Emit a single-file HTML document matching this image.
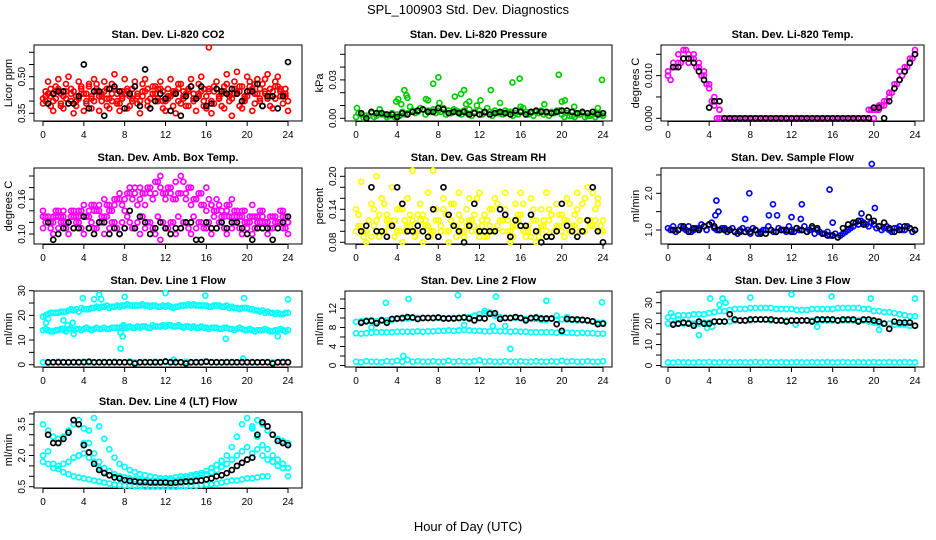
<!DOCTYPE html>
<html><head><meta charset="utf-8"><style>
html,body{margin:0;padding:0;background:#fff}
svg{display:block;font-family:"Liberation Sans",Arial,sans-serif}
</style></head><body>
<svg id="chart" width="936" height="540" viewBox="0 0 936 540" xmlns="http://www.w3.org/2000/svg">
<rect width="936" height="540" fill="#fff"/>
<text x="468" y="14" text-anchor="middle" font-size="13">SPL_100903  Std. Dev. Diagnostics</text>
<text x="468" y="531" text-anchor="middle" font-size="13">Hour of Day (UTC)</text>
</svg>
<script>
// ---- data: x-ticks ----
const xTicks=[0,4,8,12,16,20,24];
// ---- CO2 ----
const co2A=[0.41,0.43,0.40,0.45,0.42,0.39,0.44,0.41,0.43,0.46,0.40,0.42,0.44,0.41,0.45,0.39,0.43,0.42,0.46,0.40,0.44,0.41,0.43,0.45,0.40,0.42,0.44,0.39,0.43,0.46,0.41,0.44,0.42,0.40,0.45,0.43,0.47,0.41,0.44,0.46,0.42,0.45,0.43,0.47,0.41,0.44,0.46,0.43,0.40];
const co2B=[0.44,0.38,0.46,0.39,0.47,0.43,0.38,0.46,0.40,0.37,0.47,0.43,0.38,0.47,0.40,0.44,0.37,0.45,0.39,0.47,0.38,0.46,0.40,0.37,0.45,0.38,0.47,0.44,0.38,0.40,0.47,0.38,0.45,0.39,0.41,0.37,0.42,0.48,0.38,0.40,0.48,0.39,0.41,0.49,0.38,0.48,0.42,0.45];
const co2C=[0.39,0.48,0.36,0.49,0.37,0.50,0.35,0.48,0.36,0.47,0.49,0.36,0.48,0.37,0.51,0.36,0.49,0.38,0.48,0.35,0.49,0.37,0.46,0.48,0.36,0.49,0.35,0.47,0.38,0.49,0.36,0.50,0.37,0.35,0.48,0.38,0.51,0.34,0.52,0.37,0.50,0.36,0.49,0.38,0.51,0.37,0.50,0.39,0.36];
const co2D=[0.42,0.45,0.41,0.43,0.44,0.40,0.42,0.45,0.43,0.41,0.44,0.42,0.45,0.40,0.43,0.42,0.44,0.41,0.43,0.42,0.45,0.43,0.41,0.44,0.42,0.43,0.45,0.41,0.44,0.43,0.42,0.45,0.62,0.44,0.42,0.46,0.43,0.45,0.44,0.42,0.46,0.43,0.45,0.44,0.42,0.46,0.44,0.43];
const co2E=[0.40,0.42,0.44,0.38,0.41,0.45,0.40,0.43,0.39,0.42,0.45,0.40,0.41,0.43,0.39,0.41,0.45,0.40,0.42,0.44,0.40,0.43,0.45,0.40,0.41,0.44,0.40,0.42,0.45,0.41,0.43,0.40,0.44,0.46,0.41,0.44,0.40,0.43,0.46,0.41,0.44,0.47,0.40,0.43,0.45,0.41,0.45,0.42];
const co2K=[0.39,0.43,0.44,0.44,0.39,0.39,0.42,0.55,0.37,0.44,0.44,0.34,0.45,0.46,0.44,0.37,0.43,0.46,0.38,0.53,0.37,0.40,0.43,0.41,0.36,0.43,0.34,0.42,0.46,0.41,0.46,0.38,0.39,0.45,0.44,0.43,0.45,0.43,0.40,0.44,0.44,0.47,0.38,0.42,0.42,0.37,0.42,0.56];
// ---- Pressure ----
const prA=[0.001,0.003,0.002,0.004,0.002,0.003,0.001,0.004,0.003,0.005,0.004,0.006,0.005,0.007,0.006,0.007,0.006,0.008,0.006,0.007,0.005,0.006,0.007,0.005,0.006,0.004,0.005,0.006,0.004,0.006,0.005,0.004,0.006,0.005,0.004,0.005,0.006,0.004,0.005,0.006,0.003,0.004,0.002,0.003,0.004,0.002,0.003,0.004,0.002];
const prB=[0.004,0.000,0.002,0.001,0.004,0.003,0.002,0.001,0.002,0.003,0.009,0.004,0.008,0.003,0.005,0.004,0.005,0.003,0.004,0.006,0.003,0.004,0.002,0.010,0.003,0.008,0.002,0.004,0.003,0.005,0.002,0.003,0.008,0.003,0.002,0.004,0.003,0.002,0.004,0.006,0.001,0.002,0.001,0.003,0.001,0.002,0.001,0.003];
const prOx=[0.1,2.3,3.9,4.1,4.4,4.7,4.9,5.0,6.8,7.0,7.5,8.0,8.1,9.6,10.2,10.5,10.7,11.0,12.1,13.1,14.0,15.2,15.9,16.0,18.3,19.7,20.0,20.3,21.2,23.5,23.9];
const prOy=[0.008,0.007,0.013,0.015,0.011,0.022,0.018,0.016,0.015,0.014,0.027,0.032,0.012,0.017,0.019,0.022,0.011,0.013,0.014,0.022,0.012,0.028,0.031,0.009,0.011,0.034,0.013,0.014,0.009,0.008,0.030];
const prK=[0.004,0.000,0.005,0.004,0.004,0.003,0.003,0.001,0.004,0.003,0.005,0.006,0.007,0.005,0.005,0.008,0.007,0.004,0.005,0.004,0.005,0.003,0.004,0.003,0.005,0.003,0.004,0.005,0.004,0.003,0.006,0.005,0.003,0.005,0.006,0.005,0.005,0.004,0.005,0.006,0.006,0.005,0.004,0.005,0.004,0.005,0.003,0.004];
// ---- Li-820 Temp ----
const tmA=[0.010,0.013,0.013,0.014,0.015,0.014,0.012,0.010,0.007,0.003,0,0,0,0,0,0,0,0,0,0,0,0,0,0,0,0,0,0,0,0,0,0,0,0,0,0,0,0,0,0.002,0.002,0.002,0.003,0.005,0.007,0.009,0.011,0.013,0.015];
const tmB=[0.009,0.012,0.013,0.016,0.014,0.012,0.010,0.008,0.004,0.000,0,0,0,0,0,0,0,0,0,0,0,0,0,0,0,0,0,0,0,0,0,0,0,0,0,0,0,0,0,0.002,0.002,0.003,0.004,0.006,0.008,0.010,0.012,0.014];
const tmC=[0.011,0.012,0.015,0.016,0.013,0.015,0.013,0.011,0.008,0.005,0.002,0,0,0,0,0,0,0,0,0,0,0,0,0,0,0,0,0,0,0,0,0,0,0,0,0,0,0,0,0,0,0.003,0.004,0.006,0.008,0.011,0.012,0.014,0.016];
const tmK=[0.012,0.012,0.014,0.014,0.013,0.011,0.009,0.0025,0.004,0.004,0,0,0,0,0,0,0,0,0,0,0,0,0,0,0,0,0,0,0,0,0,0,0,0,0,0,0,0,0,0.0025,0.0025,0,0.004,0.007,0.009,0.011,0.013,0.015];
// ---- Amb Box Temp ----
const abA=[0.11,0.12,0.10,0.11,0.12,0.10,0.11,0.12,0.10,0.11,0.11,0.12,0.10,0.11,0.12,0.10,0.11,0.12,0.11,0.10,0.11,0.12,0.10,0.09,0.11,0.12,0.10,0.11,0.12,0.10,0.11,0.12,0.11,0.10,0.11,0.12,0.10,0.11,0.12,0.10,0.11,0.10,0.12,0.11,0.10,0.11,0.12,0.11,0.10];
const abB=[0.13,0.12,0.14,0.13,0.12,0.14,0.13,0.14,0.13,0.15,0.14,0.13,0.15,0.14,0.16,0.15,0.17,0.16,0.15,0.17,0.18,0.16,0.19,0.17,0.18,0.16,0.17,0.19,0.18,0.16,0.17,0.15,0.16,0.14,0.15,0.13,0.15,0.14,0.13,0.14,0.12,0.13,0.14,0.12,0.13,0.12,0.14,0.13];
const abC=[0.14,0.13,0.12,0.13,0.14,0.12,0.14,0.13,0.15,0.13,0.14,0.15,0.13,0.14,0.15,0.16,0.14,0.17,0.18,0.16,0.15,0.17,0.19,0.20,0.17,0.18,0.19,0.20,0.17,0.18,0.16,0.17,0.18,0.15,0.16,0.14,0.15,0.16,0.13,0.14,0.12,0.15,0.13,0.14,0.12,0.13,0.12,0.14,0.12];
const abD=[0.12,0.11,0.13,0.12,0.11,0.13,0.12,0.11,0.13,0.12,0.11,0.12,0.13,0.12,0.11,0.12,0.13,0.11,0.12,0.13,0.12,0.11,0.13,0.12,0.11,0.12,0.13,0.12,0.11,0.13,0.12,0.11,0.12,0.13,0.12,0.11,0.13,0.12,0.11,0.12,0.13,0.11,0.12,0.12,0.11,0.13,0.12,0.11];
const abE=[0.13,0.12,0.13,0.14,0.13,0.12,0.13,0.14,0.13,0.14,0.15,0.14,0.16,0.15,0.16,0.17,0.16,0.18,0.17,0.18,0.17,0.18,0.17,0.18,0.16,0.17,0.16,0.17,0.16,0.15,0.16,0.15,0.14,0.15,0.14,0.13,0.14,0.13,0.14,0.13,0.12,0.13,0.12,0.13,0.12,0.13,0.12,0.13,0.12];
const abK=[0.12,0.09,0.10,0.11,0.12,0.11,0.11,0.13,0.11,0.10,0.12,0.12,0.10,0.11,0.10,0.11,0.14,0.11,0.13,0.12,0.10,0.11,0.12,0.11,0.10,0.11,0.11,0.12,0.12,0.09,0.09,0.12,0.11,0.11,0.12,0.11,0.12,0.12,0.11,0.10,0.09,0.11,0.11,0.11,0.09,0.11,0.12,0.13];
// ---- Gas Stream RH ----
const rhA=[0.10,0.11,0.10,0.09,0.12,0.10,0.13,0.11,0.10,0.14,0.11,0.12,0.10,0.13,0.11,0.10,0.12,0.14,0.10,0.11,0.13,0.10,0.12,0.11,0.09,0.13,0.11,0.10,0.12,0.14,0.10,0.11,0.13,0.10,0.09,0.12,0.11,0.10,0.13,0.11,0.10,0.12,0.11,0.14,0.10,0.12,0.11,0.15,0.10];
const rhB=[0.13,0.09,0.12,0.14,0.09,0.15,0.12,0.09,0.14,0.10,0.13,0.09,0.15,0.12,0.09,0.14,0.10,0.13,0.15,0.09,0.12,0.14,0.10,0.16,0.12,0.09,0.14,0.15,0.10,0.12,0.09,0.13,0.15,0.10,0.14,0.09,0.12,0.14,0.10,0.13,0.09,0.15,0.13,0.10,0.16,0.12,0.14,0.11];
const rhC=[0.14,0.19,0.08,0.15,0.20,0.16,0.12,0.18,0.14,0.08,0.16,0.21,0.13,0.08,0.17,0.21,0.12,0.16,0.08,0.15,0.17,0.09,0.16,0.13,0.17,0.09,0.14,0.16,0.12,0.17,0.08,0.15,0.17,0.09,0.16,0.08,0.14,0.17,0.09,0.15,0.13,0.16,0.10,0.17,0.15,0.18,0.17,0.16,0.12];
const rhD=[0.11,0.10,0.12,0.11,0.13,0.10,0.11,0.12,0.10,0.12,0.11,0.10,0.12,0.11,0.10,0.12,0.11,0.10,0.12,0.11,0.10,0.11,0.12,0.10,0.11,0.12,0.10,0.11,0.12,0.10,0.11,0.12,0.10,0.11,0.12,0.10,0.11,0.12,0.10,0.11,0.12,0.10,0.11,0.12,0.10,0.11,0.12,0.10];
const rhK=[0.10,0.11,0.18,0.10,0.10,0.09,0.11,0.18,0.15,0.10,0.10,0.11,0.10,0.09,0.14,0.09,0.18,0.13,0.11,0.10,0.08,0.11,0.15,0.10,0.10,0.10,0.10,0.14,0.13,0.09,0.12,0.11,0.11,0.13,0.10,0.08,0.09,0.09,0.10,0.15,0.11,0.10,0.09,0.10,0.12,0.18,0.10,0.08];
// ---- Sample Flow ----
const sfA=[1.05,1.1,1.0,1.05,1.1,1.0,1.05,1.1,1.15,1.05,1.0,1.05,1.0,0.95,1.0,0.95,0.9,1.0,0.95,1.0,1.0,0.95,1.0,0.95,1.0,1.05,1.0,0.95,1.05,1.0,0.9,0.95,0.85,0.8,0.9,1.0,1.1,1.15,1.2,1.1,1.15,1.1,1.05,1.0,1.05,1.1,1.0,1.05,1.0];
const sfB=[1.0,0.95,1.1,1.0,0.95,1.05,1.15,1.0,1.2,1.0,1.05,0.95,1.05,0.9,1.05,1.0,1.05,0.9,1.0,1.1,0.95,1.05,1.0,1.1,0.95,1.0,1.1,1.0,0.9,0.95,0.9,0.85,0.9,0.85,0.95,1.05,1.2,1.25,1.15,1.2,1.05,1.0,1.1,0.95,1.05,1.0,1.1,0.95];
const sfOx=[4.7,4.9,4.6,7.5,7.9,9.8,10.2,10.6,12.0,13.0,12.9,15.7,16.0,18.8,19.8,20.1];
const sfOy=[1.8,1.5,1.4,1.3,2.0,1.4,1.7,1.4,1.35,1.7,1.3,2.1,1.2,1.45,2.8,1.6];
const sfK=[1.0,1.0,1.1,0.95,1.05,1.0,1.1,1.15,1.1,1.0,1.0,1.0,0.95,0.95,0.95,0.95,1.0,0.9,0.9,1.0,0.95,1.0,1.0,0.95,1.05,1.0,0.95,1.1,1.05,0.9,0.85,0.85,0.8,1.05,1.15,1.2,1.25,1.15,1.35,1.25,1.1,1.2,1.05,0.95,1.0,1.1,1.05,1.0];
// ---- Line 1 ----
const l1Top=[19.5,20.5,21,21,21.5,22,22,21.5,22.5,22.5,23,23,23.5,23,23.5,23.5,24,24,24,24,24,23.5,24,23.5,23.5,23.5,23.5,24,24,24,24,24,24,23.5,24,23.5,24,23.5,23,23,23,22.5,22,22,21.5,21,21,20.5,21];
const l1Top2=[20,21,21,21.5,21.5,22.5,22.5,23,22.5,23,23.5,23.5,24,23.5,24,24,24.5,24,24,24.5,24,24,23.5,24,24,23,23.5,24,24.5,24.5,24,24,23.5,24,24,23.5,23,23,22.5,23,22.5,22,21.5,21,21,20.5,20.5,21];
const l1Mid=[14,14,13.5,14,14,14.5,14,14.5,14.5,14.5,14.5,14.5,15,14.5,15,15,15,15.5,15,15,15.5,15,15.5,15.5,15.5,16,15.5,15.5,15.5,15,15,15.5,15,15,15,14.5,15,14.5,14.5,14.5,14,14,14,14,14,13.5,14,14,14];
const l1Mid2=[14.5,13.5,14,14.5,13.5,14.5,14.5,14,15,14,15,14.5,14.5,15,15,15.5,15,15,15.5,15.5,15,16,15.5,16,16,15.5,16,15,15.5,15.5,15,15,14.5,15,14.5,15,14.5,14,15,14,14.5,13.5,14,14.5,13.5,14,14.5,13.5];
const l1Low=[1,0.8,1,1.2,1,0.9,1.1,1,1.2,1,0.9,1,1.1,1,1.2,1,1,1.3,1,0.9,1.1,1,1.2,1,1.1,1,0.9,1,1.2,1,1,1.1,1.3,1,1,0.9,1.1,1,1,1.2,1,1,0.9,1,1.1,1,1,1.2,1];
const l1Ox=[0.3,0.5,1.9,2.0,2.4,2.9,3.0,3.9,5.0,5.5,5.7,7.6,7.8,7.6,7.9,8.0,12.0,12.8,15.9,17.9,19.7,19.6,23.0,24.0];
const l1Oy=[17,18.5,14.5,18,16,17,12.5,27,26.5,28.5,26.5,13,11.5,6.5,16,27.5,29,2,28,10.5,27,2.5,11.5,26.5];
const l1K=[1,1,1,1,1,1,1,1,1.2,1,1,1,1,1,1,1,1,0.5,1,1,1,1,1,1.3,1,1,1,0.5,1,1,1,1.2,1,1,1,1,1,1,1,1,1,1,1,1,0.5,1,1,1];
// ---- Line 2 ----
const l2Top=[9.2,9.3,9.5,9.5,9.3,9.6,9.5,9.6,9.8,9.8,9.9,10,10,10,10,10,10,10,10,10,10,10.1,10.2,10.5,10.8,11,11.2,10.5,10.2,10,10,10,10,9.8,9.8,9.8,9.6,9.6,9.8,9.6,9.7,9.7,9.6,9.5,9.5,9.4,9.2,9.0,9.0];
const l2Mid=[6.8,6.7,6.8,6.9,7.0,7.0,7.0,7.0,7.1,7.1,7.1,7.1,7.2,7.1,7.2,7.2,7.3,7.3,7.4,7.3,7.4,7.5,7.4,7.3,7.3,7.2,7.2,7.3,7.2,7.2,7.1,7.2,7.1,7.1,7.0,7.0,7.0,7.0,7.0,6.9,7.0,6.9,6.9,6.8,6.9,6.8,6.8,6.7,6.7];
const l2Low=[0.8,0.7,0.9,0.8,0.8,0.7,0.9,0.8,1.0,0.8,1.2,0.8,0.9,0.8,0.8,0.9,0.8,0.8,1.0,0.8,0.9,0.8,0.8,0.9,1.1,0.8,0.9,0.8,0.8,0.9,0.8,0.8,0.9,0.8,0.8,0.9,0.8,0.8,0.9,0.8,1.0,0.8,0.9,0.8,0.8,0.9,0.8,0.8,0.9];
const l2Ox=[2.9,5.1,9.9,13.6,18.5,23.9,15.0,4.6,12.5,13.0,19.5,20.5,10.5,13.3,14.5,1.5];
const l2Oy=[13.2,14,14.8,14.5,13.6,13.3,3.5,2,11.5,11,10.5,10.2,8.5,8.3,8.3,8];
const l2K=[9.0,9.3,9.4,8.9,9.5,9.0,9.8,9.9,10,10.2,10.1,9.8,10,10,10,10.1,9.9,9.9,9.9,10,10.1,9.9,9.5,10,9.9,10.9,11,9.8,10,10,10.2,10,9.5,10,10.1,9.9,9.9,9.9,8.7,7.3,9.8,9.7,9.7,9.6,9.5,9.3,8.7,8.8];
// ---- Line 3 ----
const l3Top=[23,23.5,24,24,24,24.5,24.5,24.5,25,25.5,26,26,26.5,27,27,27,27.5,27.5,27.5,27.5,27.5,27,27,27,27,26.5,26.5,26.5,27,27,27,27,27,27.5,27.5,27.5,27.5,27.5,27,27,26,26,25.5,25.5,25,24.5,24,23.5,23.5];
const l3Mid=[20,20,20,20,20.5,20,20,20.5,20.5,21,21,21,21,21.5,21.5,21.5,21.5,22,22,22,21.5,21.5,21.5,21.5,21.5,21.5,21.5,21.5,21.5,21.5,21.5,21.5,21.5,21.5,21.5,21.5,21.5,21.5,21.5,21,20.5,20,20,20,19.5,19.5,19.5,19,19];
const l3Low=[1.5,1.4,1.6,1.5,1.5,1.4,1.6,1.5,1.7,1.5,1.5,1.6,1.5,1.5,1.6,1.5,1.5,1.7,1.5,1.6,1.5,1.5,1.6,1.5,1.5,1.6,1.5,1.5,1.6,1.5,1.5,1.6,1.5,1.5,1.6,1.5,1.5,1.6,1.5,1.5,1.6,1.5,1.5,1.6,1.5,1.5,1.6,1.5,1.5];
const l3Ox=[0.3,1.0,3.0,3.8,4.3,3.8,4.1,5.0,5.3,5.6,8.0,12.0,15.9,19.7,24.0,14.5,20.5,12.4];
const l3Oy=[25,22,14.5,20,18.5,18,32,29,32,30,32.5,34,33,32,32,18.5,17,19.5];
const l3K=[19.5,20,20.5,20,19,21,20,20,21,21,21,24.5,22,21.5,21.5,22,22,22,22,22,21.5,21.5,21,21.5,21.5,21.5,21.5,21,22,22,22,22,21.5,22,22,22,21,22,22,21.5,21,20,17.5,21,20.5,20.5,20.5,19];
// ---- Line 4 ----
const l4A=[3.5,3.2,2.9,2.8,2.9,3.2,3.5,3.7,3.3,2.6,2.1,1.7,1.4,1.25,1.1,1.0,0.95,0.9,0.85,0.8,0.8,0.78,0.78,0.78,0.78,0.8,0.8,0.85,0.9,0.95,1.0,1.05,1.1,1.2,1.3,1.45,1.6,1.8,2.0,2.2,2.4,3.3,3.7,3.5,3.2,3.0,2.8,2.7,2.6];
const l4B=[null,null,null,null,null,null,null,2.0,2.6,3.2,3.8,3.4,2.8,2.3,1.9,1.6,1.45,1.3,1.2,1.1,1.05,1.0,0.95,0.9,0.9,0.9,0.95,1.0,1.0,1.05,1.1,1.15,1.25,1.4,1.55,1.75,2.0,2.4,2.9,3.5,3.8,3.4,2.9,2.5,2.3,2.0,1.8,1.6,1.4];
const l4C=[2.0,2.2,1.6,1.5,1.6,1.7,1.9,2.0,2.1,1.9,1.7,1.4,1.2,null,null,null,null,null,null,null,null,null,null,null,null,null,null,null,null,null,null,null,null,null,null,null,null,null,null,null,null,2.1,2.3,2.0,1.8,1.7,1.5,1.4,1.0];
const l4D=[1.7,1.6,1.4,1.35,1.2,1.1,1.0,0.95,0.9,0.85,0.8,0.75,0.7,0.65,0.6,0.58,0.55,0.55,0.52,0.52,0.5,0.5,0.5,0.5,0.5,0.5,0.5,0.52,0.52,0.55,0.55,0.58,0.6,0.62,0.65,0.7,0.75,0.8,0.8,0.85,0.9,0.9,0.95,1.0,1.0,null,null,null,null];
const l4K=[3.0,2.6,2.6,2.8,3.1,3.7,3.5,2.5,2.15,1.6,1.3,1.15,1.05,0.95,0.9,0.82,0.78,0.75,0.72,0.72,0.7,0.7,0.7,0.7,0.68,0.7,0.72,0.75,0.75,0.78,0.8,0.85,0.9,1.0,1.05,1.15,1.3,1.5,1.65,1.8,1.9,3.0,3.6,3.4,3.0,2.7,2.6,2.5];
// ---- tick arrays ----
const yt1=[0.35,0.40,0.45,0.50,0.55,0.60], yl1=['0.35','','','0.50','',''];
const yt2=[0,0.01,0.02,0.03,0.04,0.05], yl2=['0.00','','','0.03','',''];
const yt3=[0,0.005,0.010,0.015], yl3=['0.000','','0.010',''];
const yt4=[0.10,0.12,0.14,0.16,0.18,0.20], yl4=['0.10','','','0.16','',''];
const yt5=[0.08,0.10,0.12,0.14,0.16,0.18,0.20], yl5=['0.08','','','0.14','','','0.20'];
const yt6=[1.0,1.5,2.0,2.5], yl6=['1.0','','2.0',''];
const yt7=[0,5,10,15,20,25,30], yl7=['0','','10','','20','','30'];
const yt8=[0,2,4,6,8,10,12,14], yl8=['0','','4','','8','','12',''];
const yt9=[0,5,10,15,20,25,30,35], yl9=['0','','10','','20','','30',''];
const yt10=[0.5,1.0,1.5,2.0,2.5,3.0,3.5,4.0], yl10=['0.5','','','2.0','','','3.5',''];

const NS='http://www.w3.org/2000/svg';
const svg=document.getElementById('chart');
function mk(tag,attrs,parent){const e=document.createElementNS(NS,tag);for(const k in attrs)e.setAttribute(k,attrs[k]);(parent||svg).appendChild(e);return e;}
const colL=[34,345,661],colR=[302,612,924],colX0=[43,356,668],colX24=[288,603,915];
const rowT=[45,168,291,412],BH=76;

function panel(o){
  const g=mk('g',{});
  
  
  const L=colL[o.c],R=colR[o.c],T=rowT[o.r],B=T+BH;
  const xs=h=>colX0[o.c]+(colX24[o.c]-colX0[o.c])*h/24;
  const ys=v=>T+o.p1+(v-o.v1)*(o.p2-o.p1)/(o.v2-o.v1);
  const t=mk('text',{x:(L+R)/2,y:T-7,'text-anchor':'middle','font-size':'11','font-weight':'bold'},g);
  t.textContent=o.title;
  
  
  const box=mk('rect',{x:L,y:T,width:R-L,height:BH,fill:'none',stroke:'#000','stroke-width':1},g);
  
  
  xTicks.forEach(h=>{
    const x=xs(h);
    mk('line',{x1:x,x2:x,y1:B,y2:B+5,stroke:'#000'},g);
    const lt=mk('text',{x:x,y:B+17,'text-anchor':'middle','font-size':'10'},g);
    lt.textContent=h;
    
    
  });
  mk('line',{x1:xs(0),x2:xs(24),y1:B+0.5,y2:B+0.5,stroke:'#000'},g);
  o.yt.forEach((v,i)=>{
    const y=ys(v);
    mk('line',{x1:L-5,x2:L,y1:y,y2:y,stroke:'#000'},g);
    if(o.yl[i]){
      const lt=mk('text',{x:L-9,y:y,'text-anchor':'middle','font-size':'10',transform:`rotate(-90 ${L-9} ${y})`},g);
      lt.textContent=o.yl[i];
      
      
    }
  });
  const yc=T+BH/2;
  const yl=mk('text',{x:L-22,y:yc,'text-anchor':'middle','font-size':'11',transform:`rotate(-90 ${L-22} ${yc})`},g);
  yl.textContent=o.ylab;
  
  
  const clip=mk('g',{},g);
  function pt(h,v,col){
    if(v===null||v===undefined)return;
    const c=mk('circle',{cx:xs(h),cy:ys(v),r:2.5,fill:'none',stroke:col,'stroke-width':1.7},clip);
    
    
  }
  (o.series||[]).forEach(s=>s.vals.forEach((v,i)=>pt(s.x0+i*0.5,v,o.col)));
  if(o.ox)o.ox.forEach((h,i)=>pt(h,o.oy[i],o.col));
  if(o.k)o.k.forEach((v,i)=>pt(0.5+i*0.5,v,'#000'));
}
const S=(vals,x0)=>({vals,x0});
panel({name:'panel-co2',c:0,r:0,title:'Stan. Dev. Li-820 CO2',ylab:'Licor ppm',col:'#ff0000',v1:0.35,p1:68.3,v2:0.60,p2:7.3,yt:yt1,yl:yl1,series:[S(co2A,0),S(co2B,0.25),S(co2C,0),S(co2D,0.25),S(co2E,0.25)],k:co2K});
panel({name:'panel-pressure',c:1,r:0,title:'Stan. Dev. Li-820 Pressure',ylab:'kPa',col:'#00cd00',v1:0,p1:73.3,v2:0.05,p2:9.3,yt:yt2,yl:yl2,series:[S(prA,0),S(prB,0.25)],ox:prOx,oy:prOy,k:prK});
panel({name:'panel-temp',c:2,r:0,title:'Stan. Dev. Li-820 Temp.',ylab:'degrees C',col:'#ff00ff',v1:0,p1:73.3,v2:0.015,p2:9.3,yt:yt3,yl:yl3,series:[S(tmA,0),S(tmB,0.25),S(tmC,0)],k:tmK});
panel({name:'panel-amb-box-temp',c:0,r:1,title:'Stan. Dev. Amb. Box Temp.',ylab:'degrees C',col:'#ff00ff',v1:0.10,p1:66,v2:0.20,p2:8,yt:yt4,yl:yl4,series:[S(abA,0),S(abB,0.25),S(abC,0),S(abD,0.25),S(abE,0)],k:abK});
panel({name:'panel-rh',c:1,r:1,title:'Stan. Dev. Gas Stream RH',ylab:'percent',col:'#ffff00',v1:0.08,p1:74.3,v2:0.20,p2:8.3,yt:yt5,yl:yl5,series:[S(rhA,0),S(rhB,0.25),S(rhC,0),S(rhD,0.25)],k:rhK});
panel({name:'panel-sample-flow',c:2,r:1,title:'Stan. Dev. Sample Flow',ylab:'ml/min',col:'#0000ff',v1:1.0,p1:62,v2:2.0,p2:25.3,yt:yt6,yl:yl6,series:[S(sfA,0),S(sfB,0.25)],ox:sfOx,oy:sfOy,k:sfK});
panel({name:'panel-line1',c:0,r:2,title:'Stan. Dev. Line 1 Flow',ylab:'ml/min',col:'#00ffff',v1:0,p1:73.7,v2:30,p2:-0.3,yt:yt7,yl:yl7,series:[S(l1Top,0),S(l1Top2,0.25),S(l1Mid,0),S(l1Mid2,0.25),S(l1Low,0)],ox:l1Ox,oy:l1Oy,k:l1K});
panel({name:'panel-line2',c:1,r:2,title:'Stan. Dev. Line 2 Flow',ylab:'ml/min',col:'#00ffff',v1:0,p1:74.5,v2:12,p2:17.5,yt:yt8,yl:yl8,series:[S(l2Top,0),S(l2Mid,0),S(l2Low,0)],ox:l2Ox,oy:l2Oy,k:l2K});
panel({name:'panel-line3',c:2,r:2,title:'Stan. Dev. Line 3 Flow',ylab:'ml/min',col:'#00ffff',v1:0,p1:74.5,v2:30,p2:11.7,yt:yt9,yl:yl9,series:[S(l3Top,0),S(l3Mid,0),S(l3Low,0)],ox:l3Ox,oy:l3Oy,k:l3K});
panel({name:'panel-line4',c:0,r:3,title:'Stan. Dev. Line 4 (LT) Flow',ylab:'ml/min',col:'#00ffff',v1:0.5,p1:74.7,v2:3.5,p2:12.3,yt:yt10,yl:yl10,series:[S(l4A,0),S(l4B,0),S(l4C,0),S(l4D,0)],k:l4K});
</script>
</body></html>
